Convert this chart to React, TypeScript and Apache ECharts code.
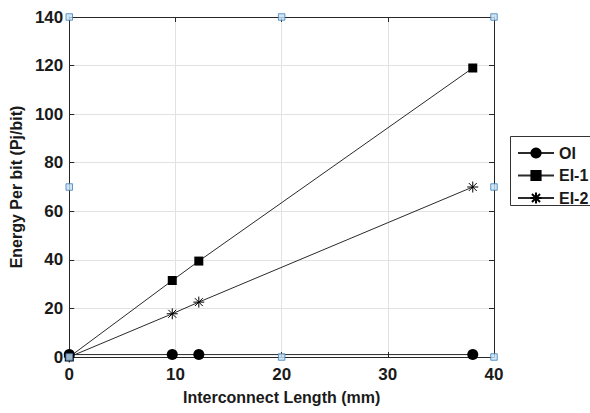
import React, { useEffect, useRef } from "react";
import * as echarts from "echarts";

const xValues = [0, 9.7, 12.2, 38];
const oiValues = [1, 1, 1, 1];
const ei1Values = [0, 31.5, 39.5, 119];
const ei2Values = [0, 17.8, 22.6, 70];
const seriesNames = ["OI", "EI-1", "EI-2"];
const handleX = [0, 20, 40, 0, 40, 0, 20, 40];
const handleY = [0, 0, 0, 70, 70, 140, 140, 140];

const FONT = "'Liberation Sans', Arial, sans-serif";
const INK = "#1a1a1a";
const STAR = "path://M0,-5L0,5M-5,0L5,0M-3.6,-3.6L3.6,3.6M-3.6,3.6L3.6,-3.6";

export default function App() {
  const ref = useRef<HTMLDivElement>(null);
  useEffect(() => {
    document.body.style.margin = "0";
    const chart = echarts.init(ref.current!, null, { renderer: "svg" });
    const pair = (ys: number[]) => xValues.map((x, i) => [x, ys[i]]);
    const lineBase = {
      type: "line",
      lineStyle: { color: "#2a2a2a", width: 1 },
      z: 3,
    };
    const option: any = {
      animation: false,
      backgroundColor: "#fff",
      grid: { left: 64, right: 96, top: 17, bottom: 56 },
      textStyle: { fontFamily: FONT },
      xAxis: [
        {
          type: "value",
          min: 0,
          max: 40,
          interval: 10,
          name: "Interconnect Length (mm)",
          nameLocation: "middle",
          nameGap: 32,
          nameTextStyle: { fontFamily: FONT, fontWeight: "bold", fontSize: 16, color: INK },
          axisLine: { show: true, onZero: false, lineStyle: { color: "#262626", width: 1 } },
          axisTick: { show: true, inside: true, length: 5, lineStyle: { color: "#262626" } },
          axisLabel: { fontFamily: FONT, fontWeight: "bold", fontSize: 17, color: INK, margin: 9 },
          splitLine: { show: true, lineStyle: { color: "#e2e2e2", width: 1 } },
        },
        {
          type: "value",
          position: "top",
          min: 0,
          max: 40,
          interval: 10,
          axisLine: { show: true, onZero: false, lineStyle: { color: "#262626", width: 1 } },
          axisTick: { show: true, inside: true, length: 5, lineStyle: { color: "#262626" } },
          axisLabel: { show: false },
          splitLine: { show: false },
        },
      ],
      yAxis: [
        {
          type: "value",
          min: 0,
          max: 140,
          interval: 20,
          name: "Energy Per bit (Pj/bit)",
          nameLocation: "middle",
          nameGap: 42,
          nameTextStyle: { fontFamily: FONT, fontWeight: "bold", fontSize: 16, color: INK },
          axisLine: { show: true, onZero: false, lineStyle: { color: "#262626", width: 1 } },
          axisTick: { show: true, inside: true, length: 5, lineStyle: { color: "#262626" } },
          axisLabel: { fontFamily: FONT, fontWeight: "bold", fontSize: 17, color: INK, margin: 6 },
          splitLine: { show: true, lineStyle: { color: "#e2e2e2", width: 1 } },
        },
        {
          type: "value",
          position: "right",
          min: 0,
          max: 140,
          interval: 20,
          axisLine: { show: true, onZero: false, lineStyle: { color: "#262626", width: 1 } },
          axisTick: { show: true, inside: true, length: 5, lineStyle: { color: "#262626" } },
          axisLabel: { show: false },
          splitLine: { show: false },
        },
      ],
      legend: {
        data: seriesNames,
        orient: "vertical",
        left: 517,
        top: 145,
        padding: 0,
        itemWidth: 36,
        itemHeight: 14,
        itemGap: 6.5,
        textStyle: { fontFamily: FONT, fontWeight: "bold", fontSize: 16, color: INK },
      },
      graphic: [
        {
          type: "rect",
          left: 510,
          top: 136,
          shape: { width: 100, height: 69 },
          style: { fill: "#fff", stroke: "#333", lineWidth: 1 },
          z: -1,
          silent: true,
        },
      ],
      series: [
        {
          ...lineBase,
          name: seriesNames[0],
          data: pair(oiValues),
          symbol: "circle",
          symbolSize: 11,
          itemStyle: { color: "#000" },
        },
        {
          ...lineBase,
          name: seriesNames[1],
          data: pair(ei1Values),
          symbol: "rect",
          symbolSize: 9,
          itemStyle: { color: "#000" },
        },
        {
          ...lineBase,
          name: seriesNames[2],
          data: pair(ei2Values),
          symbol: STAR,
          symbolSize: 11,
          itemStyle: { color: "#000", borderColor: "#000", borderWidth: 1 },
        },
        {
          type: "scatter",
          name: "handles",
          data: handleX.map((x, i) => [x, handleY[i]]),
          symbol: "rect",
          symbolSize: 6.5,
          clip: false,
          z: 10,
          itemStyle: { color: "#c6e0f4", borderColor: "#3f7fb8", borderWidth: 1 },
          silent: true,
        },
      ],
    };
    chart.setOption(option);
    return () => chart.dispose();
  }, []);
  return (
    <div
      ref={ref}
      style={{ position: "fixed", left: 0, top: 0, width: 590, height: 413 }}
    />
  );
}
